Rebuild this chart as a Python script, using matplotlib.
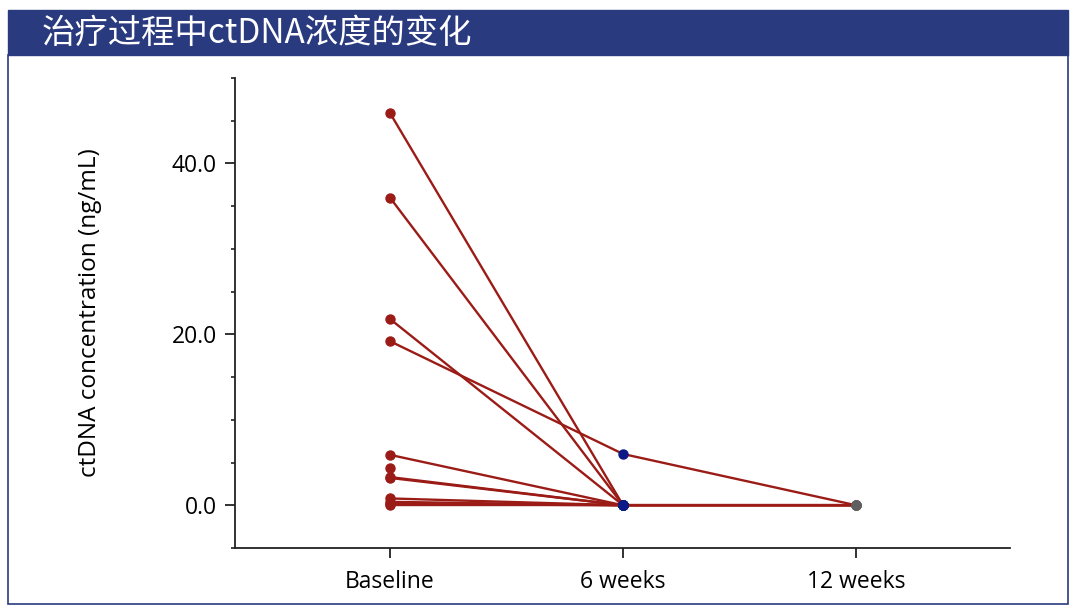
import matplotlib
matplotlib.use("Agg")
import matplotlib.pyplot as plt
from matplotlib.patches import Rectangle
from matplotlib.ticker import MultipleLocator
import numpy as np

categories = ["Baseline", "6 weeks", "12 weeks"]
baseline = [45.9, 36.0, 21.8, 19.2, 5.9, 4.4, 3.3, 3.2, 0.8, 0.4, 0.15, 0.0]
week6 = [0.0, 0.0, 0.0, 6.0, 0.0, None, 0.0, 0.0, 0.0, 0.0, 0.0, 0.0]
week12 = [None, None, None, 0.0, 0.0, None, 0.0, None, 0.0, None, None, 0.0]

title = "治疗过程中ctDNA浓度的变化"
ylabel = "ctDNA concentration (ng/mL)"
yticks = [0, 20, 40]

RED = "#9b1c17"
BLUE = "#0b1a86"
GRAY = "#5f5f5f"
NAVY = "#2a3a7f"

plt.rcParams['font.family'] = ['Open Sans', 'DejaVu Sans']

fig = plt.figure(figsize=(10.8, 6.16), dpi=100)

# banner and frame
fig.patches.append(Rectangle((8/1080, 1-55/616), 1060/1080, 45/616, transform=fig.transFigure,
                             facecolor=NAVY, edgecolor=NAVY, zorder=0))
fig.patches.append(Rectangle((8/1080, 1-604/616), 1060/1080, 549/616, transform=fig.transFigure,
                             facecolor="none", edgecolor=NAVY, linewidth=1.2, zorder=0))
fig.text(42/1080, 1-33/616, title, color="white", fontsize=24, va="center", ha="left",
         family=['Noto Sans CJK SC', 'DejaVu Sans'])

ax = fig.add_axes([235/1080, 1-548/616, 775/1080, 470/616])
x = np.arange(len(categories))

for b, w6, w12 in zip(baseline, week6, week12):
    vals = [b, w6, w12]
    xs = [xi for xi, v in zip(x, vals) if v is not None]
    ys = [v for v in vals if v is not None]
    if len(xs) > 1:
        ax.plot(xs, ys, color=RED, linewidth=1.7, zorder=2, solid_capstyle="round")

ax.plot(np.zeros(len(baseline)), baseline, "o", color=RED, markersize=6.5, zorder=3, linestyle="none")
w6v = [v for v in week6 if v is not None]
ax.plot(np.ones(len(w6v)), w6v, "o", color=BLUE, markersize=6.5, zorder=3, linestyle="none")
w12v = [v for v in week12 if v is not None]
ax.plot(np.full(len(w12v), 2), w12v, "o", color=GRAY, markersize=6.5, zorder=3, linestyle="none")

ax.set_xlim(-0.665, 2.66)
ax.set_ylim(-5, 50)
ax.set_xticks(x)
ax.set_xticklabels(categories, fontsize=16.5)
ax.set_yticks(yticks)
ax.set_yticklabels([f"{v:.1f}" for v in yticks], fontsize=16.5)
ax.yaxis.set_minor_locator(MultipleLocator(5))
ax.set_ylabel(ylabel, fontsize=17.5)
ax.yaxis.set_label_coords(-0.172, 0.5)

for s in ["top", "right"]:
    ax.spines[s].set_visible(False)
for s in ["left", "bottom"]:
    ax.spines[s].set_linewidth(1.3)
    ax.spines[s].set_color("#222222")
ax.tick_params(axis="y", which="major", length=7, width=1.3, color="#222222", pad=6)
ax.tick_params(axis="x", which="major", length=7, width=1.3, color="#222222", pad=9)
ax.tick_params(axis="y", which="minor", length=3, width=1.2, color="#222222")

fig.savefig("out.png", dpi=100)
